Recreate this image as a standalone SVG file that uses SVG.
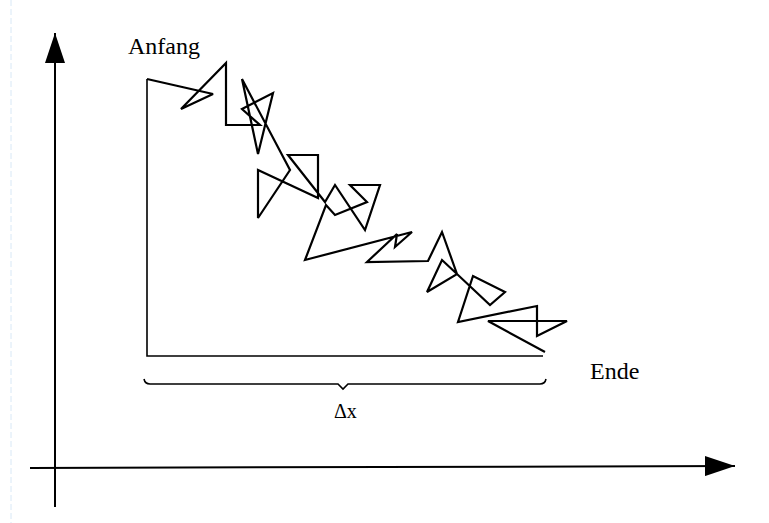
<svg xmlns="http://www.w3.org/2000/svg" width="769" height="523" viewBox="0 0 769 523">
<style>
.ax{stroke:#000;stroke-width:2;fill:none}
.walk{stroke:#000;stroke-width:2.2;fill:none;stroke-linejoin:miter;stroke-miterlimit:3}
.thin{stroke:#000;stroke-width:1.6;fill:none}
.lbl{font-family:"Liberation Serif","Times New Roman",serif;fill:#000}
</style>
<defs>
<marker id="ah" viewBox="0 0 30 20" refX="30" refY="10" markerWidth="30" markerHeight="20" markerUnits="userSpaceOnUse" orient="auto">
<path d="M0,0 L30,10 L0,20 Z" fill="#000"/>
</marker>
</defs>
<rect width="769" height="523" fill="#fff"/>
<line x1="11" y1="0" x2="11" y2="523" stroke="#d8e8f6" stroke-width="1" stroke-dasharray="6,3"/>
<g id="axes">
<line class="ax" x1="55" y1="507" x2="55" y2="33" marker-end="url(#ah)"/>
<line class="ax" x1="30" y1="468" x2="735" y2="466" marker-end="url(#ah)"/>
</g>
<g id="frame">
<polyline class="thin" points="147,79 147,356 543,356"/>
<path class="thin" d="M144,379 Q145,384 150,384 L338,384 L343,389 L348,384 L540,384 Q545,384 546,379"/>
</g>
<g id="walk">
<polyline class="walk" points="147,79 213,94 181,109 226,63 226,125 260,125 242,109 273,93 258,154 242,79 290,170 258,218 258,170 318,198 318,155 288,155 325,202 335,185 365,230 380,185 350,185 367,202 335,215 326,205 305,260 412,232 395,247 397,234 367,262 428,261 442,232 457,274 442,260 427,292 457,274 490,305 505,292 473,276 458,322 537,306 537,336 567,321 488,321 545,352"/>
</g>
<g id="labels">
<text class="lbl" x="128" y="54" font-size="24">Anfang</text>
<text class="lbl" x="590" y="379" font-size="24">Ende</text>
<text class="lbl" x="334" y="418" font-size="20">Δx</text>
</g>
</svg>
